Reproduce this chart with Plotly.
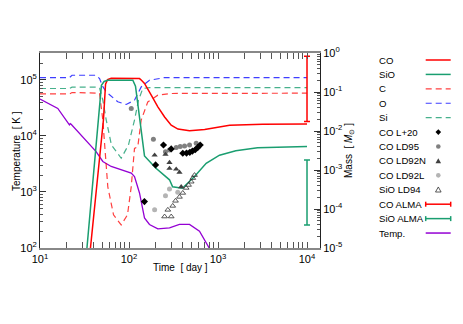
import plotly.graph_objects as go

# ---------------- data (time in days, masses in Msun, temperature in K) ----------------
co_t = [33.1, 36.9, 51.6, 54.5, 57.5, 63.1, 125.9, 131.2, 138.0, 149.3, 177.8, 210.9, 251.2,
        297.9, 354.8, 478.6, 707.9, 1349, 3162, 10000]
co_m = [8.7e-7, 1e-5, 0.0191, 0.158, 0.209, 0.226, 0.226, 0.221, 0.20, 0.166, 0.0832, 0.0417,
        0.0229, 0.0141, 0.0112, 0.0101, 0.011, 0.0141, 0.0148, 0.0151]

sio_t = [30.9, 33.6, 44.6, 49.0, 52.5, 57.5, 107.2, 110.4, 118.3, 125.9, 134.9, 149.3, 199.5,
         285.1, 309.0, 398.1, 544.5, 736.2, 1040, 1585, 2780, 10000]
sio_m = [1.1e-6, 1e-5, 0.0191, 0.148, 0.186, 0.20, 0.20, 0.20, 0.141, 0.050, 0.0141, 0.00229,
         0.00112, 5.6e-4, 3.7e-4, 3.4e-4, 6.8e-4, 1.48e-3, 2.4e-3, 3.1e-3, 3.7e-3, 4.0e-3]

c_t = [10, 21.4, 22.9, 43.7, 46.6, 50.8, 57.8, 67.0, 81.7, 96.2, 105.9, 115.3, 125.6, 137.1,
       162.6, 210.9, 297.9, 10000]
c_m = [0.0891, 0.0891, 0.0971, 0.0971, 0.0933, 0.0191, 3.7e-4, 7.1e-5, 3.9e-5, 7.1e-5, 3.7e-4,
       3.59e-3, 3.98e-3, 0.0191, 0.0558, 0.0828, 0.0916, 0.0933]

o_t = [10, 21.4, 22.9, 42.7, 46.7, 50.4, 55.5, 74.8, 93.1, 115.3, 137.1, 169.8, 251.2, 10000]
o_m = [0.234, 0.234, 0.269, 0.269, 0.221, 0.141, 0.10, 0.0562, 0.0479, 0.0617, 0.135, 0.20,
       0.234, 0.234]

si_t = [10, 21.4, 22.9, 44.7, 46.7, 50.8, 55.5, 63.5, 81.7, 98.6, 115.3, 127.9, 142.9, 169.8, 10000]
si_m = [0.123, 0.123, 0.133, 0.133, 0.126, 0.0617, 0.0191, 4.37e-3, 2.0e-3, 4.37e-3, 0.0191,
        0.0617, 0.123, 0.130, 0.130]

temp_t = [10, 15.85, 21.4, 21.9, 22.4, 42.7, 50.8, 63.1, 105.9, 115.3, 131.2, 149.3, 169.8,
          210.9, 285.1, 369.0, 478.6, 619.4, 801.7]
temp_k = [45400, 30900, 15700, 16600, 16200, 5250, 3500, 2850, 2170, 1890, 960, 345, 263,
          220, 229, 263, 263, 200, 98]

# observations
l20_t = [149, 199, 244, 298, 402, 443, 482, 516, 555, 593, 631]
l20_m = [1.55e-4, 1.35e-3, 4.37e-3, 3.47e-3, 2.69e-3, 2.72e-3, 2.84e-3, 3.06e-3, 3.31e-3,
         3.80e-3, 4.37e-3]

ld95_t = [106, 188, 257, 285, 339, 376, 421, 479, 569]
ld95_m = [0.038, 6.1e-3, 2.95e-3, 3.24e-3, 3.80e-3, 3.98e-3, 4.11e-3, 4.37e-3, 4.82e-3]

ld92n_t = [194, 257, 285, 285, 339, 369, 386]
ld92n_m = [2.4e-3, 2.51e-3, 1.55e-3, 1.1e-3, 1.05e-3, 8.7e-4, 3.7e-4]

ld92l_t = [194, 257, 285, 353]
ld92l_m = [9.5e-5, 2.19e-4, 3.24e-4, 2.7e-4]

ld94_t = [251, 298, 273, 310, 333, 369, 402, 439, 467, 500, 521, 545]
ld94_m = [6.4e-5, 6.4e-5, 9.5e-5, 1.2e-4, 1.62e-4, 2.04e-4, 2.58e-4, 3.47e-4, 4.13e-4,
          5.0e-4, 6.2e-4, 7.4e-4]

alma_t = [10000]
co_alma_lo, co_alma_hi = [0.0174], [0.82]
sio_alma_lo, sio_alma_hi = [3.9e-5], [1.8e-3]

x_tickvals = [10, 100, 1000, 10000]
x_ticktext = ["10<sup>1</sup>", "10<sup>2</sup>", "10<sup>3</sup>", "10<sup>4</sup>"]
y_tickvals = [100, 1000, 10000, 100000]
y_ticktext = ["10<sup>2</sup>", "10<sup>3</sup>", "10<sup>4</sup>", "10<sup>5</sup>"]
y2_tickvals = [1e-5, 1e-4, 1e-3, 1e-2, 1e-1, 1]
y2_ticktext = ["10<sup>-5</sup>", "10<sup>-4</sup>", "10<sup>-3</sup>", "10<sup>-2</sup>",
               "10<sup>-1</sup>", "10<sup>0</sup>"]

legend_labels = ["CO", "SiO", "C", "O", "Si", "CO L+20", "CO LD95", "CO LD92N", "CO LD92L",
                 "SiO LD94", "CO ALMA", "SiO ALMA", "Temp."]

# ---------------- styles ----------------
RED = "#ff0000"
GREEN = "#1a9e70"
BLUE = "#2a2aff"
PURPLE = "#9400d3"
FONT = "Liberation Sans, Arial, Helvetica, sans-serif"
DASH = "6px,4px"

fig = go.Figure()

def line(x, y, color, dash=None, width=1.5, axis="y2", opacity=1.0):
    fig.add_trace(go.Scatter(x=x, y=y, yaxis=axis, mode="lines", opacity=opacity,
                             line=dict(color=color, width=width, dash=dash),
                             showlegend=False, hoverinfo="skip"))

line(c_t, c_m, RED, DASH, 1.2, opacity=0.75)
line(o_t, o_m, BLUE, DASH, 1.2, opacity=0.9)
line(si_t, si_m, GREEN, DASH, 1.2, opacity=0.8)
line(co_t, co_m, RED)
line(sio_t, sio_m, GREEN)
line(temp_t, temp_k, PURPLE, None, 1.3, axis="y")

def pts(x, y, symbol, color, size, lc=None):
    fig.add_trace(go.Scatter(x=x, y=y, yaxis="y2", mode="markers", showlegend=False,
                             marker=dict(symbol=symbol, color=color, size=size,
                                         line=dict(width=0.8 if lc else 0, color=lc or color)),
                             hoverinfo="skip"))

pts(ld92l_t, ld92l_m, "circle", "#b4b4b4", 5)
pts(ld95_t, ld95_m, "circle", "#808080", 5)
pts(ld92n_t, ld92n_m, "triangle-up", "#404040", 5.5)
pts(ld94_t, ld94_m, "triangle-up-open", "#303030", 5, "#303030")
pts(l20_t, l20_m, "diamond", "#000000", 5.5)

def errbar(lo, hi, color):
    center = [(a * b) ** 0.5 for a, b in zip(lo, hi)]
    fig.add_trace(go.Scatter(
        x=alma_t, y=center, yaxis="y2", mode="markers", showlegend=False,
        marker=dict(size=1, color=color, opacity=0),
        error_y=dict(type="data", symmetric=False,
                     array=[h - c for h, c in zip(hi, center)],
                     arrayminus=[c - l for l, c in zip(lo, center)],
                     color=color, thickness=1.5, width=3),
        hoverinfo="skip"))

errbar(co_alma_lo, co_alma_hi, RED)
errbar(sio_alma_lo, sio_alma_hi, GREEN)

# ---------------- geometry (window pixels; page body has an 8px margin) ----------------
OFF = 8
L, R, T, B = 40, 320, 53, 248
W, H = R - L, B - T
FIG_W, FIG_H = 463 - OFF, 324 - OFF

def px(v):
    return (v - L) / W

def py(v):
    return (B - v) / H

shapes, annots = [], []
row0, dy = 60.0, 14.42
kx0, kx1, kxc = 425.7, 450.7, 438.3
key_specs = [
    ("line", RED, None), ("line", GREEN, None), ("dash", RED, 0.75), ("dash", BLUE, 0.9),
    ("dash", GREEN, 0.8), ("diamond", "#000000", None), ("circle", "#808080", None),
    ("tri", "#404040", None), ("circle", "#b4b4b4", None), ("otri", "#303030", None),
    ("err", RED, None), ("err", GREEN, None), ("line", PURPLE, None),
]
for i, (lab, (kind, col, op)) in enumerate(zip(legend_labels, key_specs)):
    yy = row0 + i * dy
    annots.append(dict(text=lab, x=px(376.5), y=py(yy), xref="paper", yref="paper",
                       xanchor="left", yanchor="middle", showarrow=False,
                       font=dict(family=FONT, size=9.6, color="#000")))
    if kind in ("line", "dash", "err"):
        shapes.append(dict(type="line", xref="paper", yref="paper", x0=px(kx0), x1=px(kx1),
                           y0=py(yy), y1=py(yy), opacity=op if op else 1,
                           line=dict(color=col, width=1.5 if kind != "dash" else 1.2,
                                     dash=DASH if kind == "dash" else "solid")))
        if kind == "err":
            for xe in (kx0, kx1):
                shapes.append(dict(type="line", xref="paper", yref="paper", x0=px(xe), x1=px(xe),
                                   y0=py(yy - 2.5), y1=py(yy + 2.5),
                                   line=dict(color=col, width=1.5)))
    elif kind == "circle":
        r = 2.3
        shapes.append(dict(type="circle", xref="paper", yref="paper", x0=px(kxc - r),
                           x1=px(kxc + r), y0=py(yy + r), y1=py(yy - r),
                           fillcolor=col, line=dict(width=0, color=col)))
    elif kind == "diamond":
        r = 2.8
        path = "M {} {} L {} {} L {} {} L {} {} Z".format(
            px(kxc), py(yy - r), px(kxc + r), py(yy), px(kxc), py(yy + r), px(kxc - r), py(yy))
        shapes.append(dict(type="path", xref="paper", yref="paper", path=path,
                           fillcolor=col, line=dict(width=0, color=col)))
    elif kind in ("tri", "otri"):
        r = 2.8
        path = "M {} {} L {} {} L {} {} Z".format(
            px(kxc), py(yy - r), px(kxc + r), py(yy + r * 0.8), px(kxc - r), py(yy + r * 0.8))
        shapes.append(dict(type="path", xref="paper", yref="paper", path=path,
                           fillcolor=col if kind == "tri" else "rgba(0,0,0,0)",
                           line=dict(width=0 if kind == "tri" else 0.8, color=col)))

# axis titles
annots.append(dict(text="Time  [ day ]", x=px(180), y=py(275), xref="paper", yref="paper",
                   showarrow=False, font=dict(family=FONT, size=10, color="#000")))
annots.append(dict(text="Temperature  [ K ]", x=px(8.5), y=py(151), xref="paper", yref="paper",
                   showarrow=False, textangle=-90, font=dict(family=FONT, size=10, color="#000")))
annots.append(dict(text="Mass  [ <i>M</i><sub>⊙</sub> ]", x=px(357), y=py(151), xref="paper",
                   yref="paper", showarrow=False, textangle=-90,
                   font=dict(family=FONT, size=10, color="#000")))

minor_x = [m * 10 ** e for e in range(1, 5) for m in range(2, 10)]
minor_y = [m * 10 ** e for e in range(2, 6) for m in range(2, 10)]
minor_y2 = [m * 10.0 ** e for e in range(-5, 0) for m in range(2, 10)]

tickfont = dict(family=FONT, size=11, color="#000")

fig.update_layout(
    width=FIG_W, height=FIG_H, autosize=False,
    margin=dict(l=L - OFF, r=FIG_W - (R - OFF), t=T - OFF, b=FIG_H - (B - OFF), pad=0),
    paper_bgcolor="white", plot_bgcolor="white",
    showlegend=False,
    xaxis=dict(type="log", range=[1, 4.146], tickmode="array", tickvals=x_tickvals,
               ticktext=x_ticktext, ticks="inside", ticklen=6, tickcolor="#555",
               showline=True, linecolor="#888888", linewidth=2, mirror="allticks",
               showgrid=False, zeroline=False, tickfont=tickfont,
               minor=dict(tickmode="array", tickvals=minor_x, ticks="inside", ticklen=3,
                          tickcolor="#555", showgrid=False)),
    yaxis=dict(type="log", range=[2, 5.48], tickmode="array", tickvals=y_tickvals,
               ticktext=y_ticktext, ticks="inside", ticklen=6, tickcolor="#333",
               showline=True, linecolor="#222", linewidth=1, mirror=False,
               showgrid=False, zeroline=False, tickfont=tickfont,
               minor=dict(tickmode="array", tickvals=minor_y, ticks="inside", ticklen=3,
                          tickcolor="#555", showgrid=False)),
    yaxis2=dict(type="log", range=[-5, 0], overlaying="y", side="right", anchor="x",
                tickmode="array", tickvals=y2_tickvals, ticktext=y2_ticktext,
                ticks="inside", ticklen=6, tickcolor="#333",
                showline=True, linecolor="#222", linewidth=1,
                showgrid=False, zeroline=False, tickfont=tickfont,
                minor=dict(tickmode="array", tickvals=minor_y2, ticks="inside", ticklen=3,
                           tickcolor="#555", showgrid=False)),
    shapes=shapes, annotations=annots,
)

fig.write_html("out.html")
